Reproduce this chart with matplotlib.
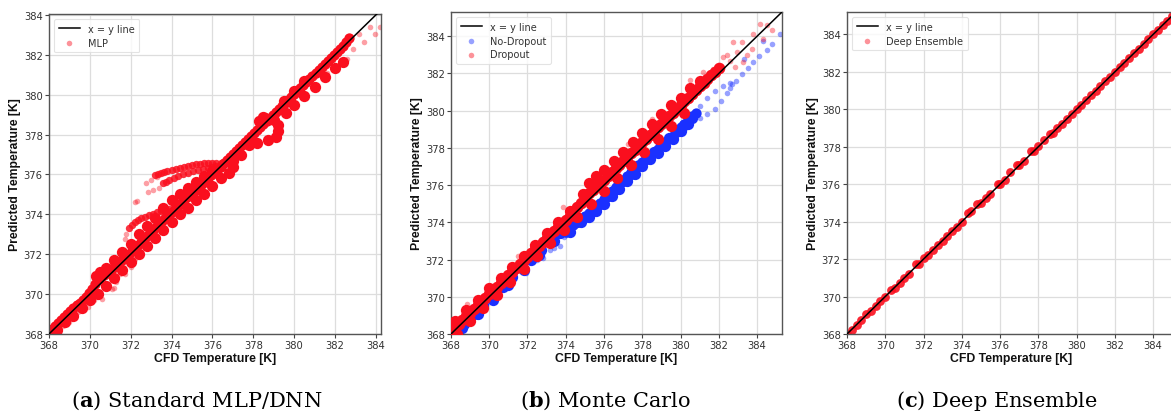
import matplotlib.pyplot as plt

# ---- data (CFD temperature vs predicted, K) ----
# (a) standard MLP: dense core, side layers, stray branches and sparse dots
mlp_core_x = [368.0, 368.15, 368.3, 368.45, 368.6, 368.75, 368.9, 369.05, 369.2, 369.35,
              369.5, 369.65, 369.8, 369.95, 370.1, 370.25, 370.4, 370.55, 370.7, 370.85,
              371.0, 371.15, 371.3, 371.45, 371.6, 371.75, 371.9, 372.05, 372.2, 372.35,
              372.5, 372.65, 372.8, 372.95, 373.1, 373.25, 373.4, 373.55, 373.7, 373.85,
              374.0, 374.15, 374.3, 374.45, 374.6, 374.75, 374.9, 375.05, 375.2, 375.35,
              375.5, 375.65, 375.8, 375.95, 376.1, 376.25, 376.4, 376.55, 376.7, 376.85,
              377.0, 377.15, 377.3, 377.45, 377.6, 377.75, 377.9, 378.05, 378.2, 378.35,
              378.5, 378.65, 378.8, 378.95, 379.1, 379.25, 379.4, 379.55, 379.7, 379.85,
              380.0, 380.15, 380.3, 380.45, 380.6, 380.75, 380.9, 381.05, 381.2, 381.35,
              381.5, 381.65, 381.8, 381.95, 382.1, 382.25, 382.4, 382.55, 382.7]
mlp_core_y = [368.08, 368.23, 368.38, 368.53, 368.68, 368.83, 368.98, 369.13, 369.28, 369.43,
              369.58, 369.73, 369.88, 370.05, 370.25, 370.5, 370.72, 370.85, 370.95, 371.07,
              371.2, 371.3, 371.42, 371.56, 371.7, 371.85, 372.0, 372.15, 372.3, 372.45,
              372.6, 372.75, 372.9, 373.05, 373.2, 373.35, 373.5, 373.65, 373.8, 373.95,
              374.1, 374.25, 374.4, 374.55, 374.7, 374.85, 375.0, 375.1, 375.22, 375.35,
              375.5, 375.65, 375.8, 375.95, 376.1, 376.25, 376.4, 376.57, 376.74, 376.9,
              377.05, 377.2, 377.35, 377.5, 377.65, 377.8, 377.95, 378.1, 378.25, 378.4,
              378.55, 378.7, 378.85, 379.0, 379.15, 379.3, 379.45, 379.6, 379.75, 379.9,
              380.05, 380.2, 380.35, 380.5, 380.65, 380.8, 380.95, 381.1, 381.25, 381.4,
              381.55, 381.7, 381.85, 382.0, 382.15, 382.3, 382.45, 382.65, 382.85]
mlp_low_x = [368.4, 368.8, 369.2, 369.6, 370.0, 370.4, 370.8, 371.2, 371.6, 372.0, 372.4, 372.8,
             373.2, 373.6, 374.0, 374.4, 374.8, 375.2, 375.6, 376.0, 376.4, 376.8, 377.0, 377.0,
             377.4, 377.8, 378.2, 378.7, 379.1, 379.2, 379.2, 379.0, 378.6, 379.6, 380.0, 380.5,
             381.0, 381.5, 382.0, 382.4]
mlp_low_y = [368.2, 368.6, 368.9, 369.3, 369.7, 370.0, 370.4, 370.8, 371.2, 371.6, 372.0, 372.4,
             372.8, 373.2, 373.6, 374.0, 374.3, 374.7, 375.0, 375.4, 375.8, 376.1, 376.4, 376.7,
             377.0, 377.5, 377.6, 377.75, 377.9, 378.2, 378.5, 378.75, 378.85, 379.1, 379.5, 379.95,
             380.4, 380.9, 381.35, 381.65]
mlp_up_x = [370.3, 370.5, 370.8, 371.2, 371.6, 372.0, 372.4, 372.8, 373.2, 373.6, 374.0, 374.4,
            374.8, 375.2, 375.6, 376.0, 378.3, 378.5, 379.5, 380.0, 380.5]
mlp_up_y = [370.9, 371.1, 371.3, 371.7, 372.1, 372.5, 373.0, 373.4, 373.8, 374.3, 374.7, 375.0,
            375.3, 375.6, 375.9, 376.2, 378.7, 378.9, 379.7, 380.2, 380.7]
mlp_arc_x = [373.2, 373.35, 373.5, 373.65, 373.8, 374.0, 374.2, 374.4, 374.6, 374.8, 375.0, 375.2,
             375.4, 375.6, 375.8, 376.0, 376.2, 376.4, 376.6,
             373.6, 373.75, 373.9, 374.1, 374.3, 374.55, 374.8, 375.05, 375.3, 375.55, 375.8,
             376.0, 376.2, 376.4,
             371.9, 372.05, 372.2, 372.35, 372.5, 372.7, 372.9, 373.1, 373.3, 373.5, 373.7, 373.9, 374.1]
mlp_arc_y = [375.95, 376.03, 376.1, 376.15, 376.2, 376.25, 376.3, 376.35, 376.4, 376.45, 376.5, 376.52,
             376.55, 376.57, 376.6, 376.6, 376.6, 376.6, 376.6,
             375.55, 375.62, 375.7, 375.8, 375.9, 376.0, 376.1, 376.17, 376.25, 376.3, 376.35,
             376.4, 376.45, 376.5,
             373.3, 373.45, 373.6, 373.7, 373.8, 373.87, 373.95, 374.02, 374.1, 374.15, 374.2, 374.25, 374.3]
mlp_sparse_x = [372.2, 372.3, 372.75, 372.85, 373.0, 373.1, 373.3, 373.4, 371.7, 371.75,
                369.4, 369.9, 370.6, 371.1, 371.3, 371.7, 372.0, 372.2, 372.5, 372.7,
                370.2, 370.9, 371.5, 372.0, 372.4, 371.2, 369.0, 368.7,
                381.6, 382.1, 382.6, 382.9, 383.4, 383.95, 384.2, 383.2, 383.7, 382.7]
mlp_sparse_y = [374.6, 374.65, 375.55, 375.1, 375.7, 375.2, 375.85, 375.3, 372.75, 373.0,
                369.1, 369.35, 369.75, 370.25, 370.6, 371.0, 371.35, 371.75, 372.1, 372.45,
                369.7, 370.5, 371.0, 371.6, 372.1, 370.3, 368.6, 368.4,
                381.1, 381.45, 381.8, 382.3, 382.65, 383.05, 383.4, 383.05, 383.4, 382.95]

# (b) Monte Carlo: No-Dropout (blue) and Dropout (red)
nodrop_core_x = [374.0, 374.2, 374.4, 374.6, 374.8, 375.0, 375.2, 375.4, 375.6, 375.8,
                 376.0, 376.2, 376.4, 376.6, 376.8, 377.0, 377.2, 377.4, 377.6, 377.8,
                 378.0, 378.2, 378.4, 378.6, 378.8, 379.0, 379.2, 379.4, 379.6, 379.8,
                 380.0, 380.2, 380.4, 380.6, 380.8]
nodrop_core_y = [373.5, 373.68, 373.86, 374.03, 374.2, 374.35, 374.52, 374.7, 374.88, 375.06,
                 375.28, 375.48, 375.68, 375.88, 376.08, 376.28, 376.48, 376.68, 376.88, 377.06,
                 377.22, 377.4, 377.58, 377.76, 377.94, 378.12, 378.3, 378.48, 378.66, 378.86,
                 379.1, 379.3, 379.5, 379.7, 379.85]
nodrop_band_x = [368.2, 368.7, 369.2, 369.7, 370.2, 370.7, 371.2, 371.7, 372.2, 372.7, 373.2, 373.7,
                 374.2, 374.6, 375.0, 375.4, 375.8, 376.2, 376.6, 377.0, 377.4, 377.8, 378.2, 378.6,
                 379.0, 379.4, 379.8, 380.2, 380.6]
nodrop_band_y = [368.05, 368.55, 369.05, 369.55, 370.05, 370.55, 371.05, 371.55, 372.0, 372.5, 373.0, 373.45,
                 373.8, 374.0, 374.3, 374.6, 375.0, 375.4, 375.8, 376.2, 376.6, 377.0, 377.4, 377.8,
                 378.2, 378.55, 378.9, 379.25, 379.6]
nodrop_low_x = [368.6, 369.4, 370.2, 371.0, 371.8, 372.6, 373.4, 374.2, 374.8, 375.2, 375.6, 376.0,
                376.4, 376.8, 377.2, 377.6, 378.0, 378.4, 378.8, 379.2, 379.6, 380.0, 380.4]
nodrop_low_y = [368.3, 369.1, 369.85, 370.65, 371.45, 372.25, 373.0, 373.5, 374.0, 374.3, 374.6, 375.0,
                375.4, 375.8, 376.2, 376.6, 377.0, 377.4, 377.7, 378.1, 378.5, 378.9, 379.3]
nodrop_sparse_x = [380.6, 381.0, 381.4, 381.8, 382.2, 382.6, 380.5, 381.0, 381.4, 381.8, 382.1, 382.4,
                   382.6, 382.7, 382.9, 383.2, 383.5, 383.8, 384.1, 384.5, 384.8, 385.2, 383.3, 384.3,
                   372.8, 373.2, 373.4, 373.7, 373.9, 374.0, 371.9, 372.5]
nodrop_sparse_y = [379.8, 380.25, 380.7, 381.05, 381.35, 381.5, 379.4, 379.6, 379.8, 380.1, 380.5, 380.95,
                   381.2, 381.45, 381.6, 381.95, 382.3, 382.6, 382.95, 383.25, 383.6, 384.1, 382.8, 383.75,
                   372.1, 372.5, 372.6, 372.75, 373.2, 373.3, 371.3, 372.0]

drop_core_x = [368.0, 368.2, 368.4, 368.6, 368.8, 369.0, 369.2, 369.4, 369.6, 369.8,
               370.0, 370.2, 370.4, 370.6, 370.8, 371.0, 371.2, 371.4, 371.6, 371.8,
               372.0, 372.2, 372.4, 372.6, 372.8, 373.0, 373.2, 373.4, 373.6, 373.8,
               374.0, 374.2, 374.4, 374.6, 374.8, 375.0, 375.2, 375.4, 375.6, 375.8,
               376.0, 376.2, 376.4, 376.6, 376.8, 377.0, 377.2, 377.4, 377.6, 377.8,
               378.0, 378.2, 378.4, 378.6, 378.8, 379.0, 379.2, 379.4, 379.6, 379.8,
               380.0, 380.2, 380.4, 380.6, 380.8, 381.0, 381.2, 381.4, 381.6, 381.8,
               382.0]
drop_core_y = [368.15, 368.35, 368.55, 368.75, 368.95, 369.15, 369.35, 369.55, 369.75, 369.95,
               370.15, 370.35, 370.55, 370.75, 370.95, 371.15, 371.35, 371.55, 371.75, 371.95,
               372.15, 372.35, 372.55, 372.75, 372.95, 373.15, 373.35, 373.55, 373.75, 373.95,
               374.15, 374.35, 374.55, 374.8, 375.05, 375.3, 375.55, 375.75, 375.95, 376.15,
               376.3, 376.5, 376.7, 376.9, 377.1, 377.3, 377.5, 377.7, 377.9, 378.1,
               378.3, 378.5, 378.7, 378.9, 379.1, 379.3, 379.5, 379.7, 379.9, 380.1,
               380.3, 380.5, 380.7, 380.9, 381.1, 381.3, 381.5, 381.7, 381.9, 382.1,
               382.3]
drop_up_x = [368.2, 368.8, 369.4, 370.0, 370.6, 371.2, 371.8, 372.4, 373.0, 373.6, 374.2, 374.9,
             375.2, 375.6, 376.0, 376.5, 377.0, 377.5, 378.0, 378.5, 379.0, 379.5, 380.0, 380.5, 381.0]
drop_up_y = [368.7, 369.3, 369.85, 370.45, 371.0, 371.6, 372.2, 372.8, 373.4, 374.0, 374.6, 375.5,
             376.1, 376.5, 376.8, 377.3, 377.8, 378.3, 378.8, 379.3, 379.8, 380.3, 380.7, 381.2, 381.6]
drop_low_x = [368.3, 369.0, 369.7, 370.4, 371.1, 371.8, 372.5, 373.2, 373.9, 374.6, 375.3, 376.0,
              376.7, 377.4, 378.1, 378.8, 379.5, 380.2]
drop_low_y = [368.0, 368.7, 369.4, 370.1, 370.8, 371.5, 372.2, 372.9, 373.6, 374.3, 375.0, 375.7,
              376.4, 377.1, 377.8, 378.5, 379.2, 379.9]
drop_sparse_x = [382.76, 383.2, 382.24, 382.94, 383.46, 383.72, 384.16, 384.51, 384.77, 384.33, 383.81,
                 381.71, 381.19, 380.5, 378.93, 378.5, 377.53, 382.07, 382.59, 382.85, 383.28,
                 368.82, 371.52, 373.87, 377.27, 379.97, 382.4, 381.5, 380.9]
drop_sparse_y = [383.68, 383.68, 382.88, 383.15, 382.97, 383.32, 384.67, 384.58, 384.31, 383.86, 384.13,
                 382.25, 382.07, 381.62, 379.74, 379.56, 378.31, 382.42, 382.69, 382.34, 382.6,
                 369.61, 372.21, 374.81, 378.21, 380.63, 383.0, 381.8, 381.3]

# (c) Deep Ensemble: tight along the diagonal
ens_x = [368.0, 368.25, 368.5, 368.75, 369.0, 369.25, 369.5, 369.75, 370.0, 370.3, 370.5, 370.75,
         371.0, 371.25, 371.6, 371.75, 372.0, 372.25, 372.5, 372.75, 373.0, 373.25, 373.5, 373.75,
         374.0, 374.3, 374.5, 374.8, 375.0, 375.25, 375.5, 375.9, 376.0, 376.25, 376.5, 376.9,
         377.0, 377.25, 377.6, 377.75, 378.0, 378.3, 378.6, 378.75, 379.0, 379.25, 379.5, 379.75,
         380.0, 380.25, 380.5, 380.75, 381.0, 381.25, 381.5, 381.75, 382.0, 382.25, 382.5, 382.75,
         383.0, 383.25, 383.5, 383.75, 384.0, 384.25, 384.5, 384.75, 385.0]
ens_y = [368.0, 368.22, 368.48, 368.74, 369.06, 369.24, 369.48, 369.74, 370.0, 370.36, 370.48, 370.73,
         370.98, 371.23, 371.75, 371.76, 372.05, 372.24, 372.48, 372.73, 372.99, 373.24, 373.5, 373.72,
         373.98, 374.45, 374.55, 374.92, 375.0, 375.24, 375.5, 376.02, 376.02, 376.25, 376.65, 377.05,
         377.02, 377.25, 377.75, 377.8, 378.03, 378.38, 378.68, 378.76, 379.0, 379.24, 379.5, 379.74,
         380.0, 380.24, 380.5, 380.74, 381.0, 381.24, 381.5, 381.74, 382.0, 382.24, 382.5, 382.74,
         383.0, 383.24, 383.5, 383.74, 384.0, 384.24, 384.5, 384.74, 385.0]

ticks = [368, 370, 372, 374, 376, 378, 380, 382, 384]
captions = [r"($\mathbf{a}$) Standard MLP/DNN", r"($\mathbf{b}$) Monte Carlo", r"($\mathbf{c}$) Deep Ensemble"]

plt.rcParams['font.family'] = 'DejaVu Sans'
plt.rcParams['mathtext.fontset'] = 'custom'
plt.rcParams['mathtext.rm'] = 'DejaVu Serif'
plt.rcParams['mathtext.bf'] = 'DejaVu Serif:bold'

RED = '#fa0f1e'
BLUE = '#1a30ff'
BIG, SIDE, SMALL = 55, 66, 16

fig = plt.figure(figsize=(11.71, 4.14), dpi=100)
ax_a = fig.add_axes([0.0418, 0.1908, 0.2835, 0.773])
ax_b = fig.add_axes([0.3851, 0.1908, 0.2827, 0.7778])
ax_c = fig.add_axes([0.7233, 0.1908, 0.2810, 0.7778])


def style(ax, xlim, ylim):
    ax.set_xlim(*xlim)
    ax.set_ylim(*ylim)
    ax.set_xticks(ticks)
    ax.set_yticks(ticks)
    ax.grid(True, color='#dddddd', lw=0.9)
    ax.set_axisbelow(True)
    for sp in ax.spines.values():
        sp.set_color('#555555')
        sp.set_linewidth(1.0)
    ax.tick_params(labelsize=7.2, colors='#444444', labelcolor='#333333', length=3, width=0.8, pad=1.5)
    ax.set_xlabel('CFD Temperature [K]', family='Liberation Sans', fontweight='bold', fontsize=8.8,
                  labelpad=1, color='#111111')
    ax.set_ylabel('Predicted Temperature [K]', family='Liberation Sans', fontweight='bold', fontsize=8.8,
                  labelpad=2, color='#111111')
    leg = ax.legend(loc='upper left', fontsize=7, frameon=True, fancybox=True, borderpad=0.5,
                    handlelength=2.2, labelspacing=0.4, scatterpoints=1)
    leg.get_frame().set_edgecolor('#dddddd')
    leg.get_frame().set_linewidth(0.8)
    for h in leg.legend_handles[1:]:
        h.set_sizes([16])
        h.set_alpha(0.45)
    for t in leg.get_texts():
        t.set_color('#333333')


def diag(ax):
    ax.plot([368, 386], [368, 386], color='black', lw=1.1, label='x = y line', zorder=4)


# (a)
diag(ax_a)
ax_a.scatter(mlp_core_x, mlp_core_y, s=BIG, color=RED, lw=0, label='MLP', zorder=2)
ax_a.scatter(mlp_sparse_x, mlp_sparse_y, s=SMALL, color=RED, alpha=0.4, lw=0, zorder=2)
ax_a.scatter(mlp_low_x, mlp_low_y, s=SIDE, color=RED, lw=0, zorder=2)
ax_a.scatter(mlp_up_x, mlp_up_y, s=SIDE, color=RED, lw=0, zorder=2)
ax_a.scatter(mlp_arc_x, mlp_arc_y, s=28, color=RED, alpha=0.85, lw=0, zorder=2)
style(ax_a, (368, 384.25), (368, 384.05))

# (b)
diag(ax_b)
ax_b.scatter(nodrop_core_x, nodrop_core_y, s=BIG, color=BLUE, lw=0, label='No-Dropout', zorder=2)
ax_b.scatter(nodrop_band_x, nodrop_band_y, s=SIDE, color=BLUE, lw=0, zorder=2)
ax_b.scatter(nodrop_low_x, nodrop_low_y, s=SIDE, color=BLUE, lw=0, zorder=2)
ax_b.scatter(nodrop_sparse_x, nodrop_sparse_y, s=SMALL, color=BLUE, alpha=0.45, lw=0, zorder=2)
ax_b.scatter(drop_core_x, drop_core_y, s=BIG + 15, color=RED, lw=0, label='Dropout', zorder=3)
ax_b.scatter(drop_up_x, drop_up_y, s=SIDE, color=RED, lw=0, zorder=3)
ax_b.scatter(drop_low_x, drop_low_y, s=SIDE, color=RED, lw=0, zorder=3)
ax_b.scatter(drop_sparse_x, drop_sparse_y, s=SMALL, color=RED, alpha=0.4, lw=0, zorder=3)
style(ax_b, (368, 385.3), (368, 385.3))

# (c)
diag(ax_c)
ax_c.scatter(ens_x, ens_y, s=40, color=RED, alpha=0.9, lw=0, label='Deep Ensemble', zorder=2)
style(ax_c, (368, 385.2), (368, 385.2))

for cx, text in zip([0.168, 0.517, 0.851], captions):
    fig.text(cx, 0.031, text, family='DejaVu Serif', fontsize=15, ha='center', va='center')

fig.savefig('out.png', dpi=100)
